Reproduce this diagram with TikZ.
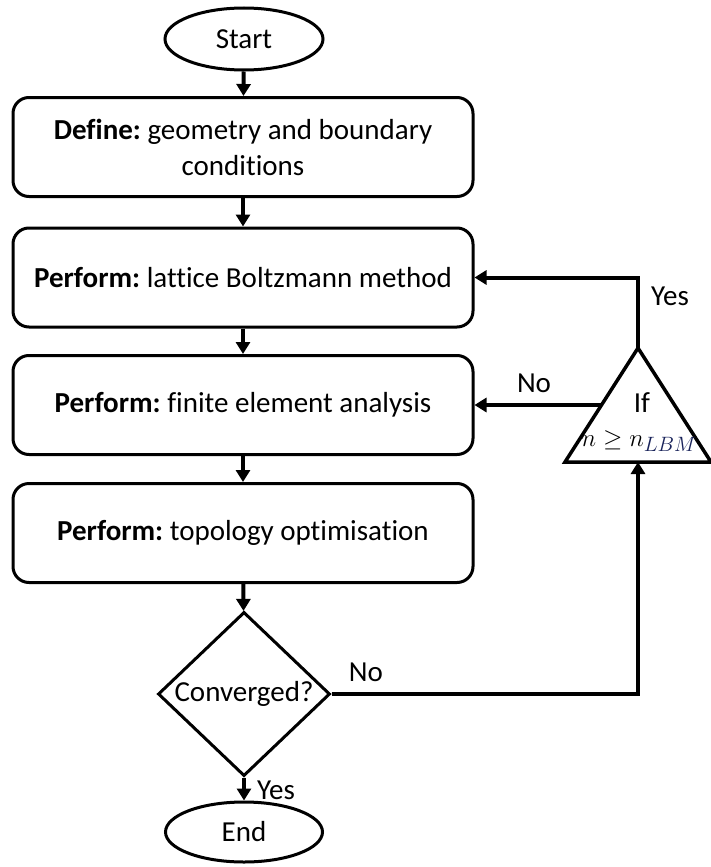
\documentclass[tikz,border=0pt]{standalone}
\usepackage{fontspec}
\setmainfont{Carlito}[Ligatures=CommonOff]
\usetikzlibrary{arrows.meta,shapes.geometric,calc}
\definecolor{subblue}{RGB}{25,35,90}
\frenchspacing
\begin{document}
\begin{tikzpicture}[x=1pt,y=-1pt,
  every node/.style={font=\fontsize{29}{36}\selectfont},
  term/.style={ellipse,draw,line width=3pt,inner sep=0pt},
  stepbox/.style={rectangle,draw,line width=3pt,rounded corners=16pt,minimum width=460pt,minimum height=99pt,align=center,inner sep=0pt},
  decide/.style={diamond,draw,line width=3pt,minimum width=172pt,minimum height=164pt,inner sep=0pt},
  conn/.style={line width=4pt,-{Triangle[width=14pt,length=12pt]}},
  lbl/.style={inner sep=0pt}]
\useasboundingbox (0,0) rectangle (711,867);
\node[term,minimum width=158pt,minimum height=62pt] (start) at (244,39) {Start};
\node[stepbox] (b0) at (243,147) {\textbf{Define:} geometry and boundary\\conditions};
\node[stepbox] (b1) at (243,277.5) {\textbf{Perform:} lattice Boltzmann method};
\node[stepbox] (b2) at (243,405) {\textbf{Perform:} finite element analysis};
\node[stepbox] (b3) at (243,533) {\textbf{Perform:} topology optimisation};
\node[decide] (dia) at (244,694) {Converged?};
\node[term,minimum width=157pt,minimum height=60pt] (end) at (244,832) {End};
% triangle
\coordinate (tA) at (638,348);
\coordinate (tL) at (565,462);
\coordinate (tR) at (711,462);
\coordinate (tB) at (638,462);
\draw[line width=3.5pt,line join=miter] (tA) -- (tL) -- (tR) -- cycle;
\node[lbl] (ifl) at (642,403) {If};
\node[lbl] (cond) at (639,441) {$n \geq n_{\textcolor{subblue}{LBM}}$};
\coordinate (tM) at ($(tA)!0.5!(tL)$);
% connectors
\draw[conn] (start) -- (b0);
\draw[conn] (b0) -- (b1);
\draw[conn] (b1) -- (b2);
\draw[conn] (b2) -- (b3);
\draw[conn] (b3) -- (dia);
\draw[conn] (dia) -- (end);
\draw[conn] (dia.east) -| (tB);
\draw[conn] (tA) |- (b1.east);
\draw[conn] (tM) -- (tM -| b2.east);
% labels
\node[lbl] (yes1) at (670,296) {Yes};
\node[lbl] (no1) at (534,383) {No};
\node[lbl] (no2) at (366,672) {No};
\node[lbl] (yes2) at (276,790) {Yes};
\end{tikzpicture}
\end{document}
